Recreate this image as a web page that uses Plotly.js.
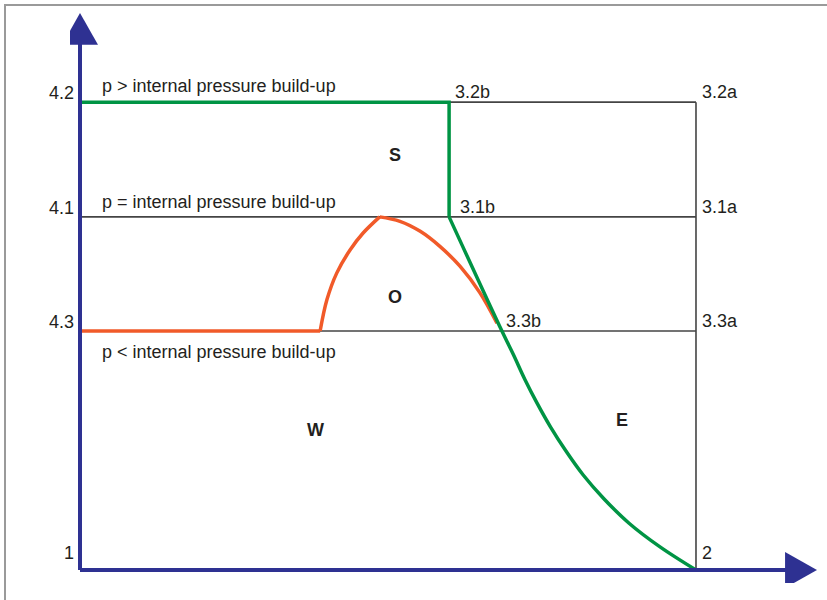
<!DOCTYPE html>
<html>
<head>
<meta charset="utf-8">
<script src="https://cdn.plot.ly/plotly-3.0.1.min.js"></script>
<style>
  html, body { margin: 0; padding: 0; background: #fff; }
  #frame { position: absolute; left: 4px; top: 4px; width: 830px; height: 600px;
           border-left: 2px solid #9a9a9a; border-top: 2px solid #9a9a9a; }
  #chart { position: absolute; left: 0; top: 0; width: 827px; height: 600px; }
</style>
</head>
<body>
<div id="frame"></div>
<div id="chart"></div>
<script>
// ---- data (Volume V in arbitrary units, Pressure p in arbitrary units) ----
const pLevels = [8.40, 6.34, 4.29];           // 4.2, 4.1, 4.3 pressure levels
const vB = 6.01;                                // 3.2b / 3.1b volume
const vA = 10.03;                               // 3.2a / 3.1a / 3.3a / 2 volume

// green line: p > internal pressure build-up, then expansion
const greenStepV = [0, 6.01, 6.01];
const greenStepP = [8.40, 8.40, 6.34];
const greenCurveV = [6.01, 6.87, 7.06, 7.24, 7.44, 7.66, 7.91, 8.19, 8.53, 8.94, 9.45, 10.03];
const greenCurveP = [6.34, 4.29, 3.86, 3.43, 3.00, 2.57, 2.14, 1.71, 1.28, 0.84, 0.41, 0.0];

// orange line: p < internal pressure build-up
const orangeFlatV = [0, 3.91];
const orangeFlatP = [4.29, 4.29];
const orangeRiseV = [3.91, 4.02, 4.18, 4.40, 4.61, 4.88];
const orangeRiseP = [4.29, 4.85, 5.33, 5.75, 6.05, 6.34];
const orangeFallV = [4.88, 5.21, 5.54, 5.86, 6.19, 6.51, 6.79];
const orangeFallP = [6.34, 6.26, 6.08, 5.81, 5.45, 4.98, 4.43];

// labels
const levelLabels = ['4.2', '4.1', '4.3', '1'];
const levelLabelP = [8.56, 6.50, 4.45, 0.31];
const lineLabels = ['p > internal pressure build-up', 'p = internal pressure build-up', 'p < internal pressure build-up'];
const lineLabelP = [8.69, 6.61, 3.91];
const pointLabels = ['3.2b', '3.1b', '3.3b', '3.2a', '3.1a', '3.3a', '2'];
const pointLabelV = [6.07, 6.15, 6.90, 10.09, 10.09, 10.09, 10.09];
const pointLabelP = [8.58, 6.52, 4.47, 8.58, 6.52, 4.47, 0.31];
const regionLabels = ['S', 'O', 'W', 'E'];
const regionV = [5.13, 5.13, 3.84, 8.82];
const regionP = [7.45, 4.90, 2.51, 2.69];

// ---- styles ----
const BLUE = '#2E3192', GREEN = '#009444', ORANGE = '#F15A29', GRAY = '#444444', TXT = '#231F20';
const FONT = 'Liberation Sans, Arial, sans-serif';
const FS = 18;

// gray reference box lines
const grayV = [vB, vA, null, 0, vA, null, 0, vA, null, vA, vA];
const grayP = [pLevels[0], pLevels[0], null, pLevels[1], pLevels[1], null, pLevels[2], pLevels[2], null, pLevels[0], 0];

const traces = [
  { x: grayV, y: grayP, mode: 'lines', line: { color: GRAY, width: 1.6 }, hoverinfo: 'skip' },
  { x: orangeFlatV, y: orangeFlatP, mode: 'lines', line: { color: ORANGE, width: 3.5 } },
  { x: orangeRiseV, y: orangeRiseP, mode: 'lines', line: { color: ORANGE, width: 3.5, shape: 'spline' } },
  { x: orangeFallV, y: orangeFallP, mode: 'lines', line: { color: ORANGE, width: 3.5, shape: 'spline' } },
  { x: greenStepV, y: greenStepP, mode: 'lines', line: { color: GREEN, width: 3.5 } },
  { x: greenCurveV, y: greenCurveP, mode: 'lines', line: { color: GREEN, width: 3.5, shape: 'spline' } }
];

const xMax = 12, yMax = 10;
const annotations = [];
levelLabels.forEach((t, i) => annotations.push({ text: t, x: -0.065, y: levelLabelP[i], xanchor: 'right', yanchor: 'middle', showarrow: false, font: { size: FS, color: TXT, family: FONT } }));
lineLabels.forEach((t, i) => annotations.push({ text: t, x: 0.326, y: lineLabelP[i], xanchor: 'left', yanchor: 'middle', showarrow: false, font: { size: FS, color: TXT, family: FONT } }));
pointLabels.forEach((t, i) => annotations.push({ text: t, x: pointLabelV[i], y: pointLabelP[i], xanchor: 'left', yanchor: 'middle', showarrow: false, font: { size: FS, color: TXT, family: FONT } }));
regionLabels.forEach((t, i) => annotations.push({ text: '<b>' + t + '</b>', x: regionV[i], y: regionP[i], xanchor: 'center', yanchor: 'middle', showarrow: false, font: { size: FS, color: TXT, family: FONT } }));
annotations.push({ text: 'Pressure p', x: -0.537, y: 1.56, textangle: -90, xanchor: 'center', yanchor: 'middle', showarrow: false, font: { size: FS, color: TXT, family: FONT } });
annotations.push({ text: 'Volume V', x: 9.39, y: -0.34, xanchor: 'center', yanchor: 'middle', showarrow: false, font: { size: FS, color: TXT, family: FONT } });

// axis arrows
const yArrowBase = 9.43, yArrowHW = 0.293;
const xArrowBase = 11.48, xArrowHH = 0.323;
const shapes = [
  { type: 'line', x0: 0, y0: 0, x1: 0, y1: yArrowBase + 0.05, line: { color: BLUE, width: 4 } },
  { type: 'line', x0: 0, y0: 0, x1: xArrowBase + 0.05, y1: 0, line: { color: BLUE, width: 4 } },
  { type: 'path', path: `M 0,${yMax} L ${-yArrowHW},${yArrowBase} L ${yArrowHW},${yArrowBase} Z`, fillcolor: BLUE, line: { width: 0 } },
  { type: 'path', path: `M ${xMax},0 L ${xArrowBase},${xArrowHH} L ${xArrowBase},${-xArrowHH} Z`, fillcolor: BLUE, line: { width: 0 } }
];

const layout = {
  width: 827, height: 600,
  margin: { l: 70, r: 4, t: 7, b: 17 },
  paper_bgcolor: 'rgba(0,0,0,0)', plot_bgcolor: 'rgba(0,0,0,0)',
  showlegend: false,
  xaxis: { range: [-0.1628, 12.098], showgrid: false, zeroline: false, showticklabels: false, showline: false, fixedrange: true },
  yaxis: { range: [-0.2334, 10.108], showgrid: false, zeroline: false, showticklabels: false, showline: false, fixedrange: true },
  annotations: annotations,
  shapes: shapes
};

Plotly.newPlot('chart', traces, layout, { displayModeBar: false, staticPlot: true });
</script>
</body>
</html>
